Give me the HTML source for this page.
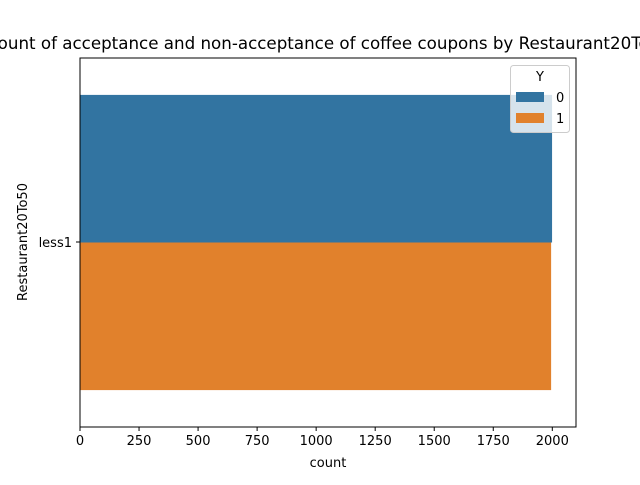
<!DOCTYPE html>
<html><head><meta charset="utf-8"><style>body{margin:0;background:#fff}svg{font-family:"DejaVu Sans","Liberation Sans",sans-serif}</style></head>
<body>
<svg width="640" height="480" viewBox="0 0 640 480">
<rect width="640" height="480" fill="#fff"/>
<text x="328" y="49" text-anchor="middle" font-size="16.7" fill="#000">Count of acceptance and non-acceptance of coffee coupons by Restaurant20To50</text>
<g id="bars"></g>
<g id="xticks"></g>
<rect x="80" y="58" width="496" height="369" fill="none" stroke="#000" stroke-width="1"/>
<line x1="80" y1="242" x2="76" y2="242" stroke="#000"/>
<text x="72" y="247" text-anchor="end" font-size="13">less1</text>
<text x="27" y="242" text-anchor="middle" font-size="13" transform="rotate(-90 27 242)">Restaurant20To50</text>
<text x="328" y="467" text-anchor="middle" font-size="13">count</text>
<g>
<rect x="510.5" y="65.5" width="59" height="67" rx="3" fill="#fff" fill-opacity="0.8" stroke="#ccc"/>
<text x="540" y="81" text-anchor="middle" font-size="13">Y</text>
<rect x="516" y="92" width="28" height="10" fill="#3274a1"/>
<text x="556" y="102" font-size="13">0</text>
<rect x="516" y="113" width="28" height="10" fill="#e1812c"/>
<text x="556" y="123" font-size="13">1</text>
</g>
</svg>
<script>
const categories = ["less1"];
const seriesNames = ["0", "1"];
const values0 = [1999];
const values1 = [1995];
const xTicks = [0, 250, 500, 750, 1000, 1250, 1500, 1750, 2000];
const colors = ["#3274a1", "#e1812c"];
const NS = "http://www.w3.org/2000/svg";
const xs = v => 80 + v * (472.3 / 2000);
const bars = document.getElementById("bars");
const bandTop = 58, bandH = 369;
[values0, values1].forEach((vals, s) => {
  vals.forEach((v, i) => {
    const r = document.createElementNS(NS, "rect");
    const y0 = bandTop + 36.9 + i * bandH + s * 147.6;
    r.setAttribute("x", xs(0));
    r.setAttribute("y", y0);
    r.setAttribute("width", xs(v) - xs(0));
    r.setAttribute("height", 147.6);
    r.setAttribute("fill", colors[s]);
    
    
    bars.appendChild(r);
  });
});
const xt = document.getElementById("xticks");
xTicks.forEach(t => {
  const l = document.createElementNS(NS, "line");
  l.setAttribute("x1", xs(t)); l.setAttribute("x2", xs(t));
  l.setAttribute("y1", 427); l.setAttribute("y2", 431);
  l.setAttribute("stroke", "#000");
  
  
  xt.appendChild(l);
  const tx = document.createElementNS(NS, "text");
  tx.setAttribute("x", xs(t)); tx.setAttribute("y", 445);
  tx.setAttribute("text-anchor", "middle");
  tx.setAttribute("font-size", "13");
  tx.textContent = t;
  
  
  xt.appendChild(tx);
});
</script>
</body></html>
